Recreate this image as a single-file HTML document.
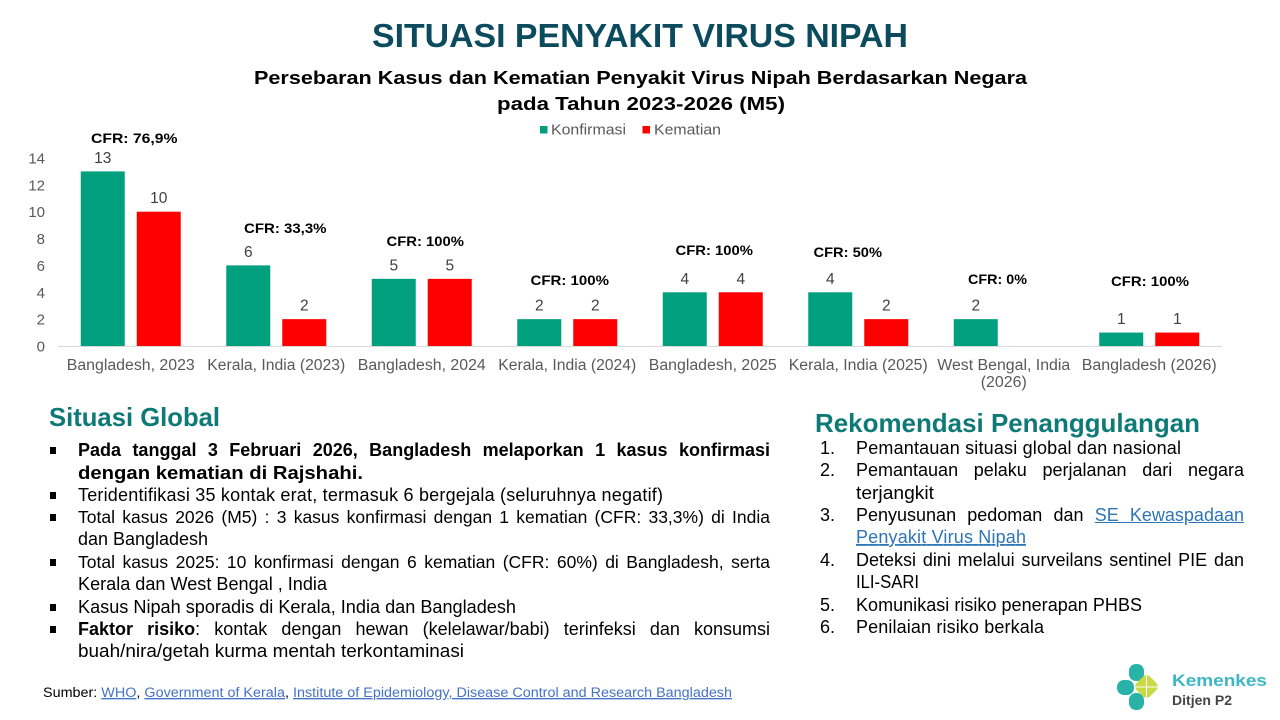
<!DOCTYPE html>
<html><head><meta charset="utf-8">
<style>
html,body{margin:0;padding:0;background:#fff;}
#wrap{position:relative;width:1280px;height:720px;overflow:hidden;background:#fff;font-family:"Liberation Sans",Arial,sans-serif;}
svg{position:absolute;left:0;top:0;}
.j{position:absolute;font-size:17.5px;line-height:22px;color:#000;text-align:justify;text-align-last:justify;font-family:"Liberation Sans",Arial,sans-serif;}
.j a{color:#2e75b6;text-decoration:underline;}
</style></head>
<body><div id="wrap">
<svg width="1280" height="720" viewBox="0 0 1280 720" font-family="Liberation Sans, Arial, sans-serif">
  <!-- Title -->
  <text x="372" y="47" font-size="33" font-weight="bold" fill="#0b4b5d" textLength="536" lengthAdjust="spacingAndGlyphs">SITUASI PENYAKIT VIRUS NIPAH</text>
  <text x="254" y="84" font-size="18.5" font-weight="bold" fill="#000" textLength="773" lengthAdjust="spacingAndGlyphs">Persebaran Kasus dan Kematian Penyakit Virus Nipah Berdasarkan Negara</text>
  <text x="497" y="110" font-size="18.5" font-weight="bold" fill="#000" textLength="288" lengthAdjust="spacingAndGlyphs">pada Tahun 2023-2026 (M5)</text>

  <!-- Legend -->
  <rect x="540" y="126" width="7.5" height="7.5" fill="#00a07f"/>
  <text x="551" y="134.5" font-size="15" fill="#595959" textLength="75" lengthAdjust="spacingAndGlyphs">Konfirmasi</text>
  <rect x="642.5" y="126" width="7.5" height="7.5" fill="#ff0000"/>
  <text x="654" y="134.5" font-size="15" fill="#595959" textLength="67" lengthAdjust="spacingAndGlyphs">Kematian</text>

  <!-- Y axis labels -->
  <g font-size="15" fill="#595959" text-anchor="end">
    <text x="45" y="351.5">0</text>
    <text x="45" y="324.6">2</text>
    <text x="45" y="297.8">4</text>
    <text x="45" y="270.9">6</text>
    <text x="45" y="244.1">8</text>
    <text x="45" y="217.2">10</text>
    <text x="45" y="190.3">12</text>
    <text x="45" y="163.5">14</text>
  </g>

  <!-- Axis line -->
  <line x1="58" y1="346.5" x2="1222" y2="346.5" stroke="#d9d9d9" stroke-width="1"/>

  <!-- Bars -->
  <g fill="#00a07f">
    <rect x="80.75" y="171.4" width="44" height="174.6"/>
    <rect x="226.25" y="265.4" width="44" height="80.6"/>
    <rect x="371.75" y="278.85" width="44" height="67.15"/>
    <rect x="517.25" y="319.14" width="44" height="26.86"/>
    <rect x="662.75" y="292.3" width="44" height="53.7"/>
    <rect x="808.25" y="292.3" width="44" height="53.7"/>
    <rect x="953.75" y="319.14" width="44" height="26.86"/>
    <rect x="1099.25" y="332.57" width="44" height="13.43"/>
  </g>
  <g fill="#ff0000">
    <rect x="136.75" y="211.7" width="44" height="134.3"/>
    <rect x="282.25" y="319.14" width="44" height="26.86"/>
    <rect x="427.75" y="278.85" width="44" height="67.15"/>
    <rect x="573.25" y="319.14" width="44" height="26.86"/>
    <rect x="718.75" y="292.3" width="44" height="53.7"/>
    <rect x="864.25" y="319.14" width="44" height="26.86"/>
    <rect x="1155.25" y="332.57" width="44" height="13.43"/>
  </g>

  <!-- Value labels -->
  <g font-size="15.5" fill="#404040" text-anchor="middle">
    <text x="102.75" y="162.9">13</text>
    <text x="158.75" y="203.2">10</text>
    <text x="248.25" y="256.9">6</text>
    <text x="304.25" y="310.6">2</text>
    <text x="393.75" y="270.35">5</text>
    <text x="449.75" y="270.35">5</text>
    <text x="539.25" y="310.6">2</text>
    <text x="595.25" y="310.6">2</text>
    <text x="684.75" y="283.8">4</text>
    <text x="740.75" y="283.8">4</text>
    <text x="830.25" y="283.8">4</text>
    <text x="886.25" y="310.6">2</text>
    <text x="975.75" y="310.6">2</text>
    <text x="1121.25" y="324.1">1</text>
    <text x="1177.25" y="324.1">1</text>
  </g>

  <!-- CFR labels -->
  <g font-size="14" font-weight="bold" fill="#000">
    <text x="91" y="143" textLength="86.5" lengthAdjust="spacingAndGlyphs">CFR: 76,9%</text>
    <text x="244" y="233" textLength="82.5" lengthAdjust="spacingAndGlyphs">CFR: 33,3%</text>
    <text x="386.5" y="246" textLength="77.5" lengthAdjust="spacingAndGlyphs">CFR: 100%</text>
    <text x="530.5" y="285" textLength="78.5" lengthAdjust="spacingAndGlyphs">CFR: 100%</text>
    <text x="675.5" y="255" textLength="77.5" lengthAdjust="spacingAndGlyphs">CFR: 100%</text>
    <text x="813.5" y="257" textLength="68.5" lengthAdjust="spacingAndGlyphs">CFR: 50%</text>
    <text x="968" y="284" textLength="59" lengthAdjust="spacingAndGlyphs">CFR: 0%</text>
    <text x="1111" y="286" textLength="78" lengthAdjust="spacingAndGlyphs">CFR: 100%</text>
  </g>

  <!-- Category labels -->
  <g font-size="15.5" fill="#595959" text-anchor="middle">
    <text x="130.75" y="370" textLength="128" lengthAdjust="spacingAndGlyphs">Bangladesh, 2023</text>
    <text x="276.25" y="370" textLength="138" lengthAdjust="spacingAndGlyphs">Kerala, India (2023)</text>
    <text x="421.75" y="370" textLength="128" lengthAdjust="spacingAndGlyphs">Bangladesh, 2024</text>
    <text x="567.25" y="370" textLength="138" lengthAdjust="spacingAndGlyphs">Kerala, India (2024)</text>
    <text x="712.75" y="370" textLength="128" lengthAdjust="spacingAndGlyphs">Bangladesh, 2025</text>
    <text x="858.25" y="370" textLength="139" lengthAdjust="spacingAndGlyphs">Kerala, India (2025)</text>
    <text x="1003.75" y="370" textLength="133" lengthAdjust="spacingAndGlyphs">West Bengal, India</text>
    <text x="1003.75" y="387" textLength="46" lengthAdjust="spacingAndGlyphs">(2026)</text>
    <text x="1149.25" y="370" textLength="135" lengthAdjust="spacingAndGlyphs">Bangladesh (2026)</text>
  </g>

  <!-- Headings -->
  <text x="49" y="426" font-size="26" font-weight="bold" fill="#0e7a77" textLength="171" lengthAdjust="spacingAndGlyphs">Situasi Global</text>
  <text x="815" y="432" font-size="26" font-weight="bold" fill="#0e7a77" textLength="385" lengthAdjust="spacingAndGlyphs">Rekomendasi Penanggulangan</text>

  <!-- Left bullets -->
  <g fill="#000">
    <rect x="50" y="447" width="6" height="7"/>
    <rect x="50" y="492" width="6" height="7"/>
    <rect x="50" y="514" width="6" height="7"/>
    <rect x="50" y="559" width="6" height="7"/>
    <rect x="50" y="604" width="6" height="7"/>
    <rect x="50" y="626" width="6" height="7"/>
  </g>

  <!-- Left non-justified lines -->
  <g font-size="18" fill="#000">
    <text x="78" y="479" font-weight="bold" textLength="285" lengthAdjust="spacingAndGlyphs">dengan kematian di Rajshahi.</text>
    <text x="78" y="501" textLength="585" lengthAdjust="spacing">Teridentifikasi 35 kontak erat, termasuk 6 bergejala (seluruhnya negatif)</text>
    <text x="78" y="545" textLength="130" lengthAdjust="spacing">dan Bangladesh</text>
    <text x="78" y="590" textLength="249" lengthAdjust="spacingAndGlyphs">Kerala dan West Bengal , India</text>
    <text x="78" y="613" textLength="438" lengthAdjust="spacingAndGlyphs">Kasus Nipah sporadis di Kerala, India dan Bangladesh</text>
    <text x="78" y="657" textLength="386" lengthAdjust="spacingAndGlyphs">buah/nira/getah kurma mentah terkontaminasi</text>
  </g>

  <!-- Right numbers -->
  <g font-size="18" fill="#000">
    <text x="820" y="454">1.</text>
    <text x="820" y="476">2.</text>
    <text x="820" y="521">3.</text>
    <text x="820" y="566">4.</text>
    <text x="820" y="611">5.</text>
    <text x="820" y="633">6.</text>
  </g>
  <g font-size="18" fill="#000">
    <text x="856" y="454" textLength="325" lengthAdjust="spacing">Pemantauan situasi global dan nasional</text>
    <text x="856" y="499" textLength="78" lengthAdjust="spacingAndGlyphs">terjangkit</text>
    <text x="856" y="543" textLength="170" lengthAdjust="spacing" fill="#2e75b6" text-decoration="underline">Penyakit Virus Nipah</text>
    <text x="856" y="588" textLength="63" lengthAdjust="spacingAndGlyphs">ILI-SARI</text>
    <text x="856" y="611" textLength="286" lengthAdjust="spacing">Komunikasi risiko penerapan PHBS</text>
    <text x="856" y="633" textLength="188" lengthAdjust="spacing">Penilaian risiko berkala</text>
  </g>

  <!-- Source -->
  <text x="43" y="697" font-size="13.5" fill="#000" textLength="689" lengthAdjust="spacingAndGlyphs">Sumber: <tspan fill="#4472c4" text-decoration="underline">WHO</tspan>, <tspan fill="#4472c4" text-decoration="underline">Government of Kerala</tspan>, <tspan fill="#4472c4" text-decoration="underline">Institute of Epidemiology, Disease Control and Research Bangladesh</tspan></text>

  <!-- Logo -->
  <g>
    <rect x="1117" y="680" width="17" height="15" rx="7" fill="#27b3a7"/>
    <rect x="1129" y="664" width="15" height="17" rx="7" fill="#27b3a7"/>
    <rect x="1129" y="693" width="15" height="17" rx="7" fill="#27b3a7"/>
    <rect x="1137" y="677" width="19" height="19" rx="5" fill="#c8da47" transform="rotate(45 1146.5 686.5)"/>
    <line x1="1135" y1="687" x2="1158" y2="687" stroke="#fff" stroke-width="1"/>
    <line x1="1146.5" y1="675" x2="1146.5" y2="699" stroke="#fff" stroke-width="1"/>
    <text x="1172" y="686" font-size="17" font-weight="bold" fill="#3db7c3" textLength="95" lengthAdjust="spacingAndGlyphs">Kemenkes</text>
    <text x="1172" y="705" font-size="13.5" font-weight="bold" fill="#444" textLength="60" lengthAdjust="spacingAndGlyphs">Ditjen P2</text>
  </g>
</svg>

<!-- Justified lines (HTML) -->
<div class="j" style="left:78px;top:439px;width:692px;font-size:18px;font-weight:bold;">Pada tanggal 3 Februari 2026, Bangladesh melaporkan 1 kasus konfirmasi</div>
<div class="j" style="left:78px;top:506px;width:692px;">Total kasus 2026 (M5) : 3 kasus konfirmasi dengan 1 kematian (CFR: 33,3%) di India</div>
<div class="j" style="left:78px;top:551px;width:692px;">Total kasus 2025: 10 konfirmasi dengan 6 kematian (CFR: 60%) di Bangladesh, serta</div>
<div class="j" style="left:78px;top:618px;width:692px;font-size:18px;"><b>Faktor risiko</b>: kontak dengan hewan (kelelawar/babi) terinfeksi dan konsumsi</div>

<div class="j" style="left:856px;top:459px;width:388px;font-size:18px;">Pemantauan pelaku perjalanan dari negara</div>
<div class="j" style="left:856px;top:504px;width:388px;font-size:18px;">Penyusunan pedoman dan <a>SE Kewaspadaan</a></div>
<div class="j" style="left:856px;top:549px;width:388px;font-size:18px;">Deteksi dini melalui surveilans sentinel PIE dan</div>
</div></body></html>
